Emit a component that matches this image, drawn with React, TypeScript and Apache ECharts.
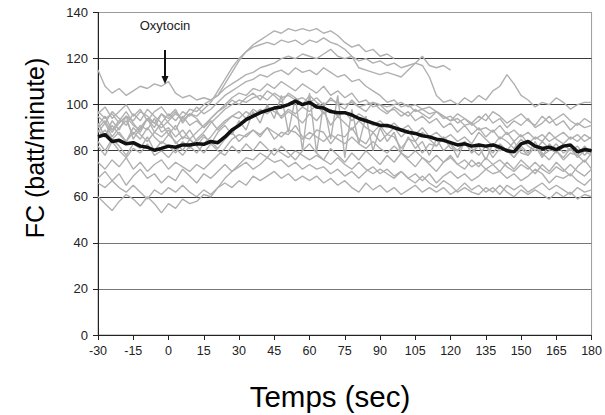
import React, { useEffect, useRef } from "react";
import * as echarts from "echarts";

// Time axis: samples every 3 s starting at -30 s
const T_START = -30;
const T_STEP = 3;
const xTicks = [-30, -15, 0, 15, 30, 45, 60, 75, 90, 105, 120, 135, 150, 165, 180];
const yTicks = [0, 20, 40, 60, 80, 100, 120, 140];

// Individual heart-rate traces (grey)
const g1 = [115, 108, 105, 107, 104, 106, 108, 107, 109, 108, 110, 105, 103, 104, 102, 103, 102, 104, 109, 114, 119, 123, 126, 128, 130, 132, 131, 133, 132, 133, 132, 133, 131, 132, 130, 127, 125, 126, 123, 124, 121, 122, 120];
const g2 = [97, 94, 96, 92, 95, 93, 97, 95, 92, 96, 94, 97, 93, 96, 95, 98, 101, 106, 111, 116, 120, 123, 125, 126, 127, 126, 128, 127, 128, 126, 128, 127, 129, 127, 126, 124, 121, 119, 120, 118, 119, 117, 118, 116, 117, 118, 121, 117, 116, 117, 115];
const g3 = [90, 93, 88, 92, 95, 91, 89, 94, 92, 90, 93, 96, 94, 98, 97, 100, 102, 104, 107, 109, 111, 113, 114, 116, 117, 118, 120, 121, 120, 122, 121, 120, 122, 124, 121, 120, 121, 116, 115, 114, 113, 114, 113, 112, 115, 118, 117, 112, 104, 101, 102, 100, 103, 101, 104, 102, 106, 108, 113, 109, 104, 102, 99, 101, 100, 103, 101, 98, 100, 101, 101];
const g4 = [95, 92, 97, 94, 91, 96, 93, 98, 95, 92, 96, 93, 97, 95, 99, 96, 98, 101, 104, 106, 108, 110, 111, 113, 112, 114, 115, 113, 116, 114, 115, 113, 116, 114, 112, 113, 110, 111, 108, 106, 104, 101, 102, 99, 100, 97, 98, 96, 97, 94, 95, 92, 94, 91, 93, 96, 92, 94, 90, 93, 91, 94, 90, 92, 95, 91, 93, 89, 92, 90, 91];
const g5 = [88, 92, 86, 90, 93, 87, 91, 89, 94, 88, 90, 86, 89, 85, 88, 91, 94, 97, 100, 103, 105, 104, 107, 106, 109, 107, 110, 108, 106, 109, 107, 105, 108, 104, 106, 103, 105, 101, 102, 99, 100, 97, 98, 95, 97, 93, 95, 92, 94, 90, 92, 88, 91, 87, 90, 86, 89, 85, 88, 84, 87, 83, 86, 84, 88, 85, 83, 86, 84, 87, 85];
const g6 = [84, 80, 85, 82, 78, 83, 81, 86, 80, 84, 82, 79, 84, 81, 85, 88, 92, 95, 98, 100, 102, 101, 103, 104, 102, 105, 103, 104, 102, 103, 101, 103, 100, 102, 101, 100, 101, 99, 100, 101, 100, 99, 100, 101, 99, 100, 98, 99, 97, 95, 93, 94, 91, 92, 89, 90, 88, 91, 87, 89, 86, 88, 85, 87, 84, 86, 88, 85, 87, 84, 86];
const g7 = [92, 86, 93, 89, 95, 85, 90, 94, 88, 92, 87, 91, 85, 89, 84, 87, 83, 88, 91, 87, 93, 89, 97, 92, 100, 94, 104, 88, 103, 80, 105, 79, 101, 85, 104, 77, 98, 83, 95, 80, 90, 84, 88, 79, 86, 81, 84, 78, 85, 80, 83, 77, 84, 79, 82, 76, 83, 80, 81, 77, 82, 79, 84, 78, 80, 83, 79, 81, 77, 80, 78];
const g8 = [96, 99, 94, 97, 100, 95, 98, 93, 97, 99, 95, 98, 92, 96, 94, 90, 93, 89, 92, 95, 97, 94, 98, 96, 99, 97, 95, 98, 96, 99, 97, 100, 96, 98, 95, 97, 93, 96, 94, 91, 93, 90, 92, 89, 91, 87, 90, 86, 88, 85, 87, 84, 86, 83, 88, 85, 82, 86, 84, 81, 85, 82, 80, 84, 81, 79, 83, 80, 82, 78, 81];
const g9 = [86, 89, 85, 88, 84, 90, 87, 84, 88, 86, 89, 83, 86, 85, 82, 86, 84, 81, 85, 88, 84, 87, 89, 86, 90, 85, 88, 87, 91, 86, 85, 89, 88, 83, 87, 86, 90, 85, 83, 88, 84, 87, 86, 81, 85, 84, 79, 83, 82, 86, 81, 80, 84, 79, 83, 82, 77, 81, 80, 84, 79, 78, 82, 77, 83, 80, 76, 79, 78, 82, 79];
const g10 = [75, 72, 76, 73, 77, 72, 75, 71, 74, 76, 72, 75, 73, 71, 74, 72, 75, 78, 81, 85, 87, 86, 89, 87, 90, 88, 86, 89, 88, 85, 88, 86, 84, 87, 85, 83, 86, 83, 81, 84, 81, 79, 82, 79, 77, 80, 77, 75, 78, 75, 77, 74, 76, 73, 75, 72, 74, 76, 73, 71, 74, 72, 75, 72, 70, 73, 71, 74, 71, 69, 72];
const g11 = [68, 71, 67, 70, 65, 69, 72, 68, 70, 66, 69, 67, 72, 69, 66, 70, 68, 71, 74, 71, 73, 75, 72, 74, 77, 75, 76, 73, 75, 72, 74, 72, 73, 70, 72, 69, 71, 68, 71, 73, 70, 72, 69, 71, 68, 70, 67, 70, 66, 69, 71, 68, 70, 67, 69, 72, 70, 71, 68, 70, 67, 69, 72, 70, 66, 69, 68, 70, 67, 65, 68];
const g12 = [60, 57, 54, 58, 61, 59, 56, 60, 57, 53, 57, 55, 59, 57, 58, 61, 60, 64, 68, 71, 74, 77, 76, 79, 77, 81, 79, 77, 80, 78, 76, 78, 76, 74, 77, 74, 72, 75, 72, 70, 72, 70, 68, 71, 68, 66, 69, 66, 64, 67, 65, 62, 64, 62, 61, 64, 62, 65, 62, 60, 63, 61, 63, 61, 59, 62, 60, 62, 59, 61, 60];
const g13 = [66, 64, 67, 64, 62, 65, 62, 59, 63, 61, 64, 62, 65, 62, 60, 63, 61, 64, 66, 64, 67, 65, 69, 67, 69, 71, 68, 70, 67, 69, 67, 69, 66, 68, 65, 67, 64, 62, 66, 63, 65, 62, 64, 61, 63, 65, 62, 64, 62, 64, 61, 63, 66, 63, 65, 62, 64, 61, 65, 63, 65, 62, 64, 66, 63, 65, 63, 61, 64, 62, 63];
const g14 = [82, 78, 84, 80, 77, 81, 79, 83, 78, 80, 77, 81, 78, 82, 79, 83, 86, 90, 93, 95, 94, 97, 95, 98, 96, 99, 94, 97, 95, 92, 96, 93, 97, 91, 95, 92, 89, 93, 90, 88, 91, 87, 90, 86, 89, 84, 88, 85, 82, 86, 83, 80, 84, 81, 78, 82, 79, 83, 80, 77, 81, 78, 82, 79, 76, 80, 77, 81, 78, 75, 79];
const g15 = [91, 95, 89, 93, 97, 92, 88, 94, 90, 96, 92, 89, 95, 91, 93, 90, 94, 97, 99, 102, 100, 103, 105, 102, 106, 104, 101, 105, 103, 100, 104, 101, 99, 103, 100, 98, 102, 99, 97, 101, 98, 96, 99, 97, 95, 98, 96, 94, 97, 95, 93, 96, 94, 92, 95, 93, 97, 95, 92, 94, 96, 93, 91, 95, 92, 94, 96, 93, 91, 94, 92];
const g16 = [89, 86, 91, 87, 84, 88, 85, 90, 86, 83, 87, 84, 80, 85, 82, 79, 83, 80, 78, 82, 79, 83, 80, 84, 81, 78, 82, 79, 76, 80, 83, 79, 76, 81, 78, 75, 79, 76, 80, 77, 74, 78, 75, 79, 76, 73, 77, 74, 71, 75, 78, 74, 72, 76, 73, 77, 74, 71, 75, 72, 76, 73, 70, 74, 71, 75, 72, 69, 73, 76, 72];

// Mean trace (black)
const meanHR = [86, 87, 84, 84.5, 83, 83.5, 82, 81.5, 80.2, 81, 82, 81.5, 82.5, 82.5, 83, 82.8, 84, 83.5, 86, 89, 91, 93.5, 95, 96.5, 97.5, 98.5, 99, 100, 101.5, 100, 101, 99, 98.5, 97, 96.5, 96.5, 95.5, 94, 93, 92, 91, 91, 90, 89, 88, 87.5, 86.5, 86, 85, 84.5, 83.5, 82.5, 83, 82, 82.5, 82, 82.5, 81.5, 80, 79.5, 83, 84, 82, 81, 81.5, 80.5, 82, 82.5, 79.5, 80.5, 80];

const greyTraces = [g1, g2, g3, g4, g5, g6, g7, g8, g9, g10, g11, g12, g13, g14, g15, g16];

const toPairs = (arr: number[]) => arr.map((v, i) => [T_START + i * T_STEP, v]);

const FONT = "'Liberation Sans', Arial, Helvetica, sans-serif";

export default function App() {
  const ref = useRef<HTMLDivElement>(null);
  useEffect(() => {
    if (!ref.current) return;
    const chart = echarts.init(ref.current, null, { renderer: "svg" });
    const series: any[] = greyTraces.map((tr, k) => ({
      type: "line",
      name: "s" + (k + 1),
      data: toPairs(tr),
      showSymbol: false,
      symbol: "none",
      silent: true,
      lineStyle: { color: "#b0b0b0", width: 1.4 },
      z: 2,
    }));
    series.push({
      type: "line",
      name: "mean",
      data: toPairs(meanHR),
      showSymbol: false,
      symbol: "none",
      silent: true,
      lineStyle: { color: "#111111", width: 3.5 },
      z: 5,
    });
    chart.setOption({
      animation: false,
      backgroundColor: "#ffffff",
      textStyle: { fontFamily: FONT },
      grid: {
        left: 98,
        right: 12,
        top: 12.5,
        bottom: 80,
        show: true,
        borderColor: "#9a9a9a",
        borderWidth: 1,
        backgroundColor: "transparent",
      },
      xAxis: {
        type: "value",
        min: xTicks[0],
        max: xTicks[xTicks.length - 1],
        interval: 15,
        axisLine: { show: true, onZero: false, lineStyle: { color: "#222", width: 1 } },
        axisTick: { show: true, length: 5, lineStyle: { color: "#222" } },
        axisLabel: { color: "#222", fontSize: 12.5, margin: 9, fontFamily: FONT },
        splitLine: { show: false },
      },
      yAxis: {
        type: "value",
        min: yTicks[0],
        max: yTicks[yTicks.length - 1],
        interval: 20,
        axisLine: { show: true, onZero: false, lineStyle: { color: "#222", width: 1 } },
        axisTick: { show: true, length: 5, lineStyle: { color: "#222" } },
        axisLabel: { color: "#222", fontSize: 13, margin: 10, fontFamily: FONT },
        splitLine: {
          show: true,
          lineStyle: {
            color: ["#222", "#777777", "#777777", "#3a3a3a", "#3a3a3a", "#3a3a3a", "#3a3a3a", "#9a9a9a"],
            width: 1,
          },
        },
      },
      graphic: [
        {
          type: "text",
          x: 35,
          y: 148,
          rotation: Math.PI / 2,
          style: {
            text: "FC (batt/minute)",
            fontSize: 25,
            fontFamily: FONT,
            fill: "#000",
            textAlign: "center",
            textVerticalAlign: "middle",
          },
        },
        {
          type: "text",
          x: 330,
          y: 396,
          style: {
            text: "Temps (sec)",
            fontSize: 29.5,
            fontFamily: FONT,
            fill: "#000",
            textAlign: "center",
            textVerticalAlign: "middle",
          },
        },
        {
          type: "text",
          x: 165,
          y: 25,
          style: {
            text: "Oxytocin",
            fontSize: 13,
            fontFamily: FONT,
            fill: "#222",
            textAlign: "center",
            textVerticalAlign: "middle",
          },
        },
        {
          type: "line",
          shape: { x1: 165, y1: 50, x2: 165, y2: 78 },
          style: { stroke: "#111", lineWidth: 2 },
          z: 10,
        },
        {
          type: "polygon",
          shape: { points: [[165, 84], [161.5, 76], [168.5, 76]] },
          style: { fill: "#111" },
          z: 10,
        },
      ],
      series,
    });
    return () => chart.dispose();
  }, []);
  return (
    <div
      ref={ref}
      style={{ position: "absolute", left: 0, top: 0, width: 605, height: 415 }}
    />
  );
}
